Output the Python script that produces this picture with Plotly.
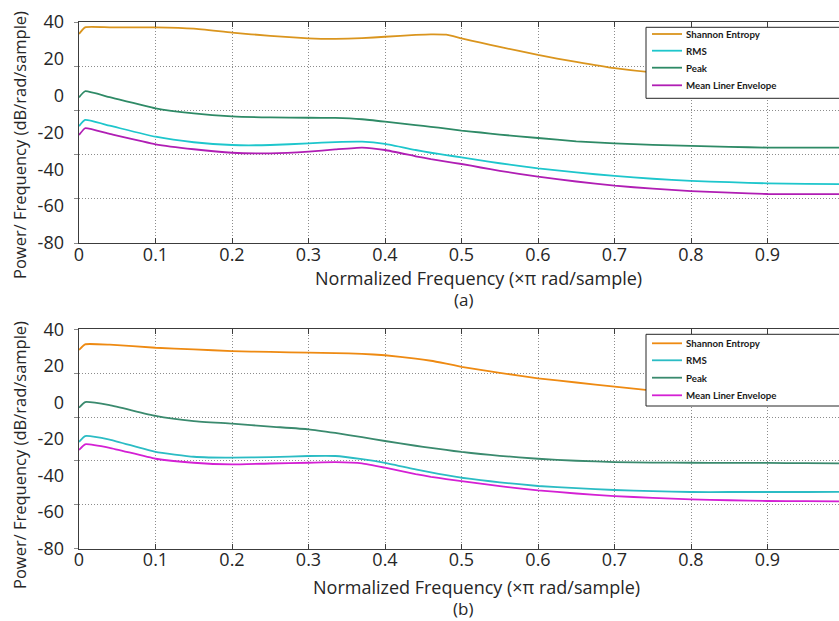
import plotly.graph_objects as go

# ---------------- data ----------------
freq = [0, 0.008, 0.04, 0.1, 0.15, 0.2, 0.25, 0.3, 0.335, 0.37, 0.4, 0.44, 0.46,
        0.48, 0.5, 0.525, 0.55, 0.6, 0.65, 0.7, 0.75, 0.8, 0.85, 0.9, 0.95, 1.0]

series_names = ["Shannon Entropy", "RMS", "Peak", "Mean Liner Envelope"]

# panel (a)
a_shannon = [33.5, 37.1, 37.1, 37.1, 36.4, 34.2, 32.5, 31.1, 30.8, 31.2, 32.0, 33.0, 33.3,
             33.1, 31.1, 28.8, 26.5, 22.1, 18.3, 14.9, 12.6, 11.5, 10.8, 10.3, 10.0, 9.8]
a_rms = [-16.5, -13.2, -16.3, -22.3, -25.3, -26.8, -26.8, -25.9, -25.2, -25.0, -26.2, -29.5, -31.0,
         -32.3, -33.5, -35.1, -36.7, -39.5, -41.7, -43.6, -45.1, -46.3, -47.0, -47.6, -47.9, -48.0]
a_peak = [-0.9, 2.4, -0.8, -6.9, -9.6, -11.2, -11.8, -12.0, -12.1, -12.8, -14.1, -16.0, -16.9,
          -17.9, -19.0, -20.0, -21.1, -23.0, -24.8, -25.9, -26.7, -27.3, -27.8, -28.2, -28.2, -28.2]
a_mean = [-21.4, -17.7, -20.8, -26.4, -29.1, -31.0, -31.3, -30.4, -29.2, -28.2, -29.5, -32.9, -34.5,
          -35.8, -37.1, -39.0, -40.8, -44.0, -46.6, -48.9, -50.5, -51.8, -52.7, -53.4, -53.5, -53.5]

# panel (b)
b_shannon = [28.7, 31.8, 31.6, 29.9, 29.0, 28.1, 27.6, 27.2, 27.0, 26.6, 25.8, 24.0, 22.8,
             21.2, 19.5, 17.8, 16.2, 13.2, 10.9, 8.6, 6.5, 5.3, 4.6, 4.1, 3.8, 3.6]
b_rms = [-21.6, -18.4, -20.3, -27.1, -29.7, -30.2, -29.9, -29.3, -29.3, -31.0, -33.0, -36.6, -38.3,
         -39.8, -41.2, -42.5, -43.7, -45.7, -46.9, -47.9, -48.5, -49.0, -49.0, -49.0, -49.0, -48.9]
b_peak = [-2.9, 0.2, -1.5, -7.4, -10.2, -11.6, -13.2, -14.7, -16.7, -19.0, -21.1, -23.7, -24.9,
          -26.0, -27.1, -28.2, -29.2, -30.8, -31.9, -32.6, -32.9, -33.0, -33.1, -33.1, -33.2, -33.3]
b_mean = [-26.0, -22.9, -24.8, -30.8, -33.0, -33.9, -33.4, -33.0, -32.7, -33.3, -35.7, -39.2, -40.7,
          -41.9, -43.0, -44.4, -45.8, -48.1, -49.8, -51.2, -52.2, -53.0, -53.5, -53.9, -54.0, -54.1]

y_label_ticks = [40, 20, 0, -20, -40, -60, -80]
y_grid_ticks = [40, 16, -8, -32, -56, -80]
x_ticks = [0, 0.1, 0.2, 0.3, 0.4, 0.5, 0.6, 0.7, 0.8, 0.9, 1]
x_ticktext = ["0", "0.1", "0.2", "0.3", "0.4", "0.5", "0.6", "0.7", "0.8", "0.9", "1"]

colors_a = ["#DA951E", "#1EC6CC", "#2E8A66", "#B01EB4"]
colors_b = ["#EE8A12", "#2BBCC4", "#3A8A6E", "#D420D4"]

W, H = 839, 621
FONT = "Open Sans"
TXT = "#262626"
GRID = "#8c8c8c"
GRID_DASH = "1px,2px"


def px_x(p):
    return p / W


def px_y(p):
    return 1 - p / H


fig = go.Figure()

panels = [
    (("x", "y"), [a_shannon, a_rms, a_peak, a_mean], colors_a),
    (("x2", "y2"), [b_shannon, b_rms, b_peak, b_mean], colors_b),
]
for (xr, yr), vals, cols in panels:
    for name, v, c in zip(series_names, vals, cols):
        fig.add_trace(go.Scatter(x=freq, y=v, name=name, mode="lines",
                                 line=dict(color=c, width=1.8, shape="spline", smoothing=0.4),
                                 xaxis=xr, yaxis=yr, showlegend=False, hoverinfo="skip"))

# dummy traces so the label-only overlay axes get drawn
fig.add_trace(go.Scatter(x=[None], y=[None], xaxis="x", yaxis="y3", showlegend=False, hoverinfo="skip"))
fig.add_trace(go.Scatter(x=[None], y=[None], xaxis="x2", yaxis="y4", showlegend=False, hoverinfo="skip"))

x_left = px_x(79)
x_range = [0, (W - 79) / 765.0]

dom_a = [px_y(243), px_y(22)]
dom_b = [px_y(548.7), px_y(329.3)]


def xaxis_cfg(anchor):
    return dict(domain=[x_left, 1], range=x_range, anchor=anchor,
                tickvals=x_ticks, ticktext=x_ticktext,
                showgrid=True, gridcolor=GRID, griddash=GRID_DASH, gridwidth=1,
                showline=True, linecolor="#3c3c3c", linewidth=1, mirror="ticks",
                ticks="inside", ticklen=5, tickcolor="#3c3c3c",
                ticklabelstandoff=-5,
                tickfont=dict(family=FONT, size=18, color=TXT),
                zeroline=False, fixedrange=True, automargin=False)


def ybase_cfg(anchor, dom):
    return dict(domain=dom, range=[-80, 40], anchor=anchor,
                tickvals=y_grid_ticks, showticklabels=False,
                showgrid=True, gridcolor=GRID, griddash=GRID_DASH, gridwidth=1,
                showline=True, linecolor="#3c3c3c", linewidth=1, mirror=True,
                ticks="outside", ticklen=4, tickcolor="#8a8a8a",
                zeroline=False, fixedrange=True, automargin=False)


def ylabel_cfg(over, anchor):
    return dict(overlaying=over, anchor=anchor, side="left", range=[-80, 40],
                tickvals=y_label_ticks, ticktext=[str(t) for t in y_label_ticks],
                showgrid=False, showline=False, zeroline=False, ticks="",
                ticklabelstandoff=14,
                tickfont=dict(family=FONT, size=18, color=TXT),
                fixedrange=True, automargin=False)


fig.update_layout(
    width=W, height=H,
    margin=dict(l=0, r=0, t=0, b=0, pad=0, autoexpand=False),
    paper_bgcolor="white", plot_bgcolor="white",
    font=dict(family=FONT, color=TXT),
    xaxis=xaxis_cfg("y"),
    xaxis2=xaxis_cfg("y2"),
    yaxis=ybase_cfg("x", dom_a),
    yaxis2=ybase_cfg("x2", dom_b),
    yaxis3=ylabel_cfg("y", "x"),
    yaxis4=ylabel_cfg("y2", "x2"),
    showlegend=False,
)

# legend boxes (opaque, as in reference) with line samples and labels
legend_boxes = [(27.3, 98.3, [34.0, 50.7, 67.7, 85.3], colors_a),
                (334.3, 406.0, [343.3, 360.3, 377.7, 395.3], colors_b)]
for top, bottom, rows, cols in legend_boxes:
    fig.add_shape(type="rect", xref="paper", yref="paper",
                  x0=px_x(646), x1=1.02, y0=px_y(bottom), y1=px_y(top),
                  fillcolor="white", line=dict(color=TXT, width=1), layer="above")
    for name, yy, c in zip(series_names, rows, cols):
        fig.add_shape(type="line", xref="paper", yref="paper",
                      x0=px_x(652), x1=px_x(682), y0=px_y(yy), y1=px_y(yy),
                      line=dict(color=c, width=1.8), layer="above")
        fig.add_annotation(text="<b>%s</b>" % name, xref="paper", yref="paper",
                           x=px_x(684), y=px_y(yy), xanchor="left", yanchor="middle",
                           showarrow=False,
                           font=dict(family="Lato", size=9.7, color="#1a1a1a"))

annotations = [
    dict(text="Normalized Frequency (×π rad/sample)", x=px_x(478), y=px_y(278), size=18),
    dict(text="(a)", x=px_x(463), y=px_y(300), size=17),
    dict(text="Normalized Frequency (×π rad/sample)", x=px_x(476), y=px_y(587), size=18),
    dict(text="(b)", x=px_x(463), y=px_y(608), size=17),
]
for a in annotations:
    fig.add_annotation(xref="paper", yref="paper", showarrow=False,
                       xanchor="center", yanchor="middle", text=a["text"], x=a["x"], y=a["y"],
                       font=dict(family=FONT, size=a["size"], color=TXT))
for yc in [145, 455]:
    fig.add_annotation(text="Power/ Frequency (dB/rad/sample)", xref="paper", yref="paper",
                       x=px_x(19), y=px_y(yc), showarrow=False, textangle=-90,
                       xanchor="center", yanchor="middle",
                       font=dict(family=FONT, size=16.5, color=TXT))

# the page's default body margin would shift the figure by 8 px
fig.write_html("out.html", config={"displayModeBar": False},
               post_script="document.body.style.margin='0';")
